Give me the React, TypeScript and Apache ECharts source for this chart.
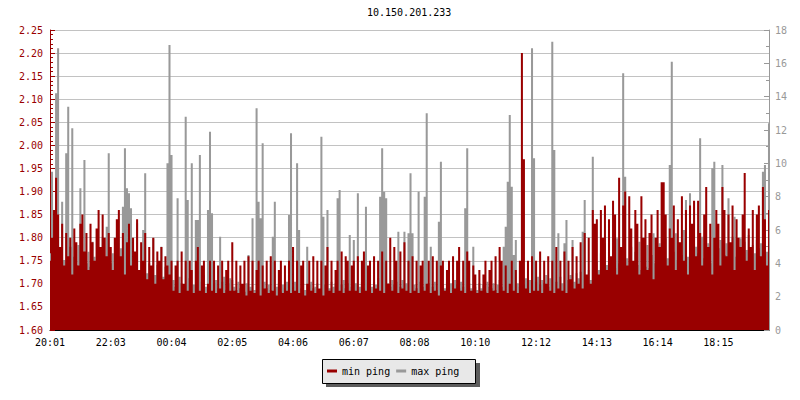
import React, { useEffect, useRef } from "react";
import * as echarts from "echarts";

const title = "10.150.201.233";
const timeTicks = ["20:01", "22:03", "00:04", "02:05", "04:06", "06:07", "08:08", "10:10", "12:12", "14:13", "16:14", "18:15"];
const seriesNames = ["min ping", "max ping"];

// min ping (left axis)
const minPing = [
  1.75, 1.80, 1.86, 1.93, 1.85, 1.78, 1.83, 1.74, 1.81, 1.76, 1.80, 1.72, 1.82, 1.79, 1.74, 1.83, 1.85, 1.77, 1.81, 1.73, 1.83, 1.79, 1.75, 1.82, 1.86, 1.78, 1.85, 1.80, 1.76, 1.81,
  1.78, 1.73, 1.80, 1.84, 1.86, 1.76, 1.81, 1.72, 1.79, 1.83, 1.74, 1.80, 1.77, 1.84, 1.73, 1.79, 1.75, 1.81, 1.71, 1.78, 1.74, 1.80, 1.70, 1.77, 1.75, 1.78, 1.71, 1.76, 1.74, 1.72,
  1.75, 1.685, 1.74, 1.75, 1.68, 1.77, 1.70, 1.75, 1.685, 1.75, 1.73, 1.68, 1.75, 1.78, 1.685, 1.74, 1.75, 1.68, 1.70, 1.75, 1.685, 1.75, 1.68, 1.74, 1.69, 1.75, 1.68, 1.73, 1.75, 1.685,
  1.79, 1.685, 1.75, 1.68, 1.74, 1.70, 1.75, 1.675, 1.76, 1.685, 1.75, 1.68, 1.73, 1.75, 1.675, 1.74, 1.69, 1.75, 1.68, 1.76, 1.685, 1.75, 1.675, 1.73, 1.75, 1.68, 1.74, 1.685, 1.75, 1.68,
  1.78, 1.685, 1.75, 1.68, 1.74, 1.75, 1.675, 1.70, 1.75, 1.685, 1.76, 1.68, 1.75, 1.69, 1.75, 1.675, 1.74, 1.78, 1.685, 1.75, 1.68, 1.73, 1.75, 1.685, 1.77, 1.68, 1.76, 1.75, 1.685, 1.74,
  1.75, 1.685, 1.76, 1.68, 1.75, 1.77, 1.685, 1.74, 1.75, 1.68, 1.76, 1.69, 1.75, 1.685, 1.77, 1.68, 1.75, 1.70, 1.80, 1.685, 1.78, 1.75, 1.68, 1.77, 1.69, 1.79, 1.685, 1.75, 1.68, 1.76,
  1.685, 1.75, 1.68, 1.74, 1.75, 1.685, 1.70, 1.75, 1.68, 1.76, 1.685, 1.75, 1.675, 1.74, 1.75, 1.685, 1.73, 1.75, 1.68, 1.76, 1.69, 1.75, 1.78, 1.685, 1.75, 1.68, 1.77, 1.75, 1.685, 1.74,
  1.72, 1.68, 1.73, 1.685, 1.72, 1.75, 1.68, 1.73, 1.75, 1.685, 1.76, 1.68, 1.78, 1.75, 1.685, 1.74, 1.68, 1.70, 1.75, 1.685, 1.73, 1.68, 1.75, 2.20, 1.97, 1.69, 1.75, 1.68, 1.76, 1.685,
  1.75, 1.685, 1.77, 1.68, 1.75, 1.70, 1.76, 1.685, 1.75, 1.68, 1.78, 1.69, 1.75, 1.685, 1.77, 1.68, 1.75, 1.71, 1.78, 1.69, 1.76, 1.70, 1.79, 1.69, 1.81, 1.72, 1.80, 1.70, 1.86, 1.83,
  1.84, 1.72, 1.86, 1.80, 1.87, 1.73, 1.84, 1.76, 1.88, 1.85, 1.72, 1.93, 1.78, 1.87, 1.90, 1.74, 1.89, 1.82, 1.75, 1.86, 1.83, 1.72, 1.89, 1.80, 1.84, 1.73, 1.81, 1.85, 1.71, 1.80,
  1.86, 1.78, 1.92, 1.92, 1.85, 1.74, 1.82, 1.80, 1.87, 1.73, 1.84, 1.79, 1.89, 1.75, 1.86, 1.72, 1.87, 1.83, 1.88, 1.76, 1.88, 1.81, 1.74, 1.85, 1.91, 1.78, 1.83, 1.72, 1.80, 1.86,
  1.83, 1.74, 1.91, 1.86, 1.76, 1.85, 1.79, 1.87, 1.73, 1.84, 1.80, 1.78, 1.85, 1.94, 1.75, 1.82, 1.78, 1.86, 1.73, 1.85, 1.87, 1.76, 1.91, 1.84, 1.74, 1.86,
];

// max ping (right axis)
const maxPing = [
  4.6, 9.5, 5.2, 14.2, 16.9, 4.8, 7.7, 4.2, 10.6, 13.4, 5.0, 12.1, 4.4, 3.9, 5.1, 8.5, 4.6, 10.2, 4.0, 4.7, 3.8, 5.3, 4.4, 3.6, 4.9, 4.1, 5.6, 3.9, 6.2, 10.6,
  4.0, 4.6, 3.5, 4.2, 3.8, 4.9, 7.4, 10.9, 8.5, 8.2, 7.3, 3.9, 4.3, 6.4, 3.6, 4.1, 6.0, 9.4, 3.4, 4.0, 3.7, 5.5, 3.3, 3.9, 3.5, 5.0, 3.2, 3.8, 10.0, 17.1,
  10.5, 3.0, 2.6, 7.9, 3.2, 2.8, 2.5, 12.8, 7.8, 3.1, 10.0, 2.7, 6.6, 6.6, 10.5, 2.9, 3.3, 2.6, 7.2, 11.9, 7.0, 2.8, 3.0, 2.5, 5.6, 2.9, 3.2, 2.4, 2.8, 3.1,
  3.0, 2.6, 2.4, 2.9, 2.5, 2.7, 2.3, 2.8, 4.5, 2.6, 6.7, 2.4, 13.3, 7.7, 6.7, 11.2, 2.9, 2.5, 2.7, 2.4, 5.6, 7.7, 2.6, 2.8, 2.3, 2.7, 2.5, 2.9, 6.9, 11.8,
  2.6, 2.9, 10.0, 6.0, 2.5, 2.8, 2.4, 5.0, 2.7, 2.9, 2.5, 2.6, 2.8, 2.4, 11.6, 6.8, 2.7, 7.2, 2.5, 2.9, 2.6, 2.8, 7.9, 8.4, 2.7, 3.0, 2.5, 2.8, 5.7, 2.6,
  5.4, 2.8, 8.2, 2.6, 2.9, 2.5, 7.4, 2.8, 3.0, 2.6, 2.9, 2.7, 3.1, 8.0, 10.9, 8.3, 7.9, 2.8, 2.6, 3.0, 2.7, 2.9, 5.9, 2.6, 3.0, 5.9, 2.8, 5.8, 9.4, 5.8,
  2.7, 2.5, 8.3, 2.9, 2.6, 8.0, 13.0, 2.8, 5.0, 2.6, 2.9, 2.4, 6.5, 10.1, 2.7, 2.5, 2.9, 2.6, 2.8, 2.4, 3.0, 2.7, 2.5, 2.9, 2.6, 7.3, 10.9, 2.8, 2.5, 5.0,
  2.6, 2.4, 2.8, 2.5, 2.7, 2.3, 2.9, 2.6, 2.5, 2.8, 2.4, 2.7, 3.0, 2.6, 5.0, 6.2, 8.9, 12.9, 8.6, 4.5, 5.4, 2.8, 2.6, 2.9, 2.7, 3.1, 2.8, 3.0, 16.9, 10.3,
  2.9, 3.2, 2.7, 3.0, 2.8, 3.3, 2.6, 3.1, 17.3, 10.8, 2.9, 5.8, 3.2, 2.8, 5.2, 6.6, 3.0, 3.3, 5.4, 2.9, 3.4, 3.1, 3.5, 5.9, 7.8, 3.2, 3.6, 3.0, 10.4, 3.4,
  4.1, 3.6, 4.6, 3.4, 5.2, 3.9, 4.4, 3.5, 4.8, 3.7, 5.5, 4.0, 3.6, 15.4, 9.2, 4.3, 3.8, 5.0, 3.5, 4.7, 3.9, 5.3, 3.6, 4.2, 3.8, 5.1, 3.7, 4.5, 5.8, 4.0,
  4.6, 5.2, 4.0, 4.8, 5.5, 4.3, 9.9, 16.1, 4.7, 5.8, 4.2, 5.1, 4.5, 6.0, 7.8, 4.4, 8.2, 5.3, 4.1, 5.0, 4.6, 11.5, 5.6, 4.3, 4.9, 5.2, 4.0, 9.7, 10.1, 4.8,
  4.9, 5.4, 9.9, 4.5, 5.2, 7.9, 4.7, 5.6, 6.8, 4.4, 5.0, 5.5, 4.2, 5.3, 4.8, 5.7, 4.3, 5.1, 4.6, 5.4, 4.9, 5.2, 9.5, 9.9, 4.7, 12.4,
];

const STEPS_PER_LABEL = 30;
const MONO = "DejaVu Sans Mono";
const RED = "#990000";
const GREY = "#999999";

export default function App() {
  const ref = useRef<HTMLDivElement>(null);

  useEffect(() => {
    if (!ref.current) return;
    const chart = echarts.init(ref.current, null, { renderer: "svg" });
    const n = minPing.length;
    const option: any = {
      animation: false,
      backgroundColor: "#ffffff",
      title: {
        text: title,
        left: 367,
        top: 7,
        padding: 0,
        textStyle: { fontFamily: MONO, fontSize: 10, fontWeight: "normal", color: "#000" },
      },
      grid: { left: 50, right: 31, top: 30, bottom: 70 },
      xAxis: {
        type: "value",
        min: 0,
        max: n - 1,
        interval: STEPS_PER_LABEL,
        axisLine: { show: true, lineStyle: { color: "#000", width: 1 } },
        axisTick: { show: true, inside: true, length: 5, lineStyle: { color: "#000" } },
        axisLabel: {
          fontFamily: MONO,
          fontSize: 10,
          color: "#000",
          margin: 7,
          showMaxLabel: false,
          formatter: (v: number) => timeTicks[Math.round(v / STEPS_PER_LABEL)] ?? "",
        },
        splitLine: { show: false },
      },
      yAxis: [
        {
          type: "value",
          position: "left",
          min: 1.6,
          max: 2.25,
          interval: 0.05,
          axisLine: { show: true, lineStyle: { color: RED, width: 1 } },
          axisTick: { show: true, inside: true, length: 5, lineStyle: { color: RED } },
          minorTick: { show: true, splitNumber: 5, length: 3, lineStyle: { color: RED } },
          axisLabel: {
            fontFamily: MONO,
            fontSize: 10,
            color: RED,
            margin: 7,
            formatter: (v: number) => v.toFixed(2),
          },
          splitLine: { show: true, lineStyle: { color: "#c2c2c2", width: 1 } },
        },
        {
          type: "value",
          position: "right",
          min: 0,
          max: 18,
          interval: 2,
          axisLine: { show: true, lineStyle: { color: GREY, width: 1 } },
          axisTick: { show: true, inside: true, length: 5, lineStyle: { color: GREY } },
          minorTick: { show: true, splitNumber: 2, length: 3, lineStyle: { color: GREY } },
          axisLabel: { fontFamily: MONO, fontSize: 10, color: GREY, margin: 6 },
          splitLine: { show: false },
        },
      ],
      legend: {
        data: seriesNames,
        left: 327,
        top: 365,
        padding: 0,
        itemWidth: 10,
        itemHeight: 3,
        itemGap: 6,
        icon: "rect",
        z: 10,
        textStyle: { fontFamily: MONO, fontSize: 10, color: "#000", lineHeight: 12 },
      },
      graphic: [
        {
          type: "rect",
          z: 1,
          shape: { x: 326, y: 363, width: 154, height: 24 },
          style: { fill: "#5c5c5c" },
        },
        {
          type: "rect",
          z: 2,
          shape: { x: 322.5, y: 359.5, width: 153, height: 24 },
          style: { fill: "#e8e8e8", stroke: "#000", lineWidth: 1 },
        },
      ],
      series: [
        {
          name: seriesNames[1],
          type: "line",
          yAxisIndex: 1,
          step: "middle",
          showSymbol: false,
          symbol: "none",
          color: GREY,
          lineStyle: { width: 0, color: GREY },
          areaStyle: { color: GREY, opacity: 1, origin: "start" },
          z: 2,
          data: maxPing.map((v, i) => [i, v]),
        },
        {
          name: seriesNames[0],
          type: "line",
          yAxisIndex: 0,
          step: "middle",
          showSymbol: false,
          symbol: "none",
          color: RED,
          lineStyle: { width: 0, color: RED },
          areaStyle: { color: RED, opacity: 1, origin: "start" },
          z: 3,
          data: minPing.map((v, i) => [i, v]),
        },
      ],
    };
    chart.setOption(option);
    return () => chart.dispose();
  }, []);

  return (
    <div
      ref={ref}
      style={{ position: "absolute", left: 0, top: 0, width: 800, height: 400, background: "#fff" }}
    />
  );
}
